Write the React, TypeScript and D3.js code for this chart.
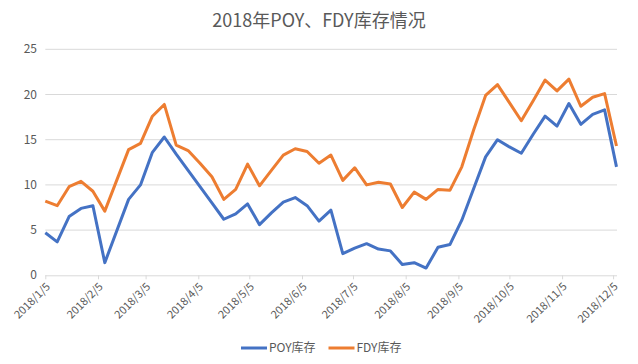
import { useEffect, useRef } from 'react';
import * as d3 from 'd3';

// weekly dates (no 2/16 row, spring festival)
const dates = [
  '2018/1/5', '2018/1/12', '2018/1/19', '2018/1/26', '2018/2/2', '2018/2/9', '2018/2/23',
  '2018/3/2', '2018/3/9', '2018/3/16', '2018/3/23', '2018/3/30', '2018/4/6', '2018/4/13',
  '2018/4/20', '2018/4/27', '2018/5/4', '2018/5/11', '2018/5/18', '2018/5/25', '2018/6/1',
  '2018/6/8', '2018/6/15', '2018/6/22', '2018/6/29', '2018/7/6', '2018/7/13', '2018/7/20',
  '2018/7/27', '2018/8/3', '2018/8/10', '2018/8/17', '2018/8/24', '2018/8/31', '2018/9/7',
  '2018/9/14', '2018/9/21', '2018/9/28', '2018/10/5', '2018/10/12', '2018/10/19', '2018/10/26',
  '2018/11/2', '2018/11/9', '2018/11/16', '2018/11/23', '2018/11/30', '2018/12/7',
];

const poy = [
  4.7, 3.7, 6.5, 7.4, 7.7, 1.4, 8.4,
  10.0, 13.6, 15.3, 13.4, 11.6, 9.8, 8.0,
  6.2, 6.8, 7.9, 5.6, 6.9, 8.1, 8.6,
  7.7, 6.0, 7.2, 2.4, 3.0, 3.5, 2.9,
  2.7, 1.2, 1.4, 0.8, 3.1, 3.4, 6.1,
  9.6, 13.1, 15.0, 14.2, 13.5, 15.6, 17.6,
  16.5, 19.0, 16.7, 17.8, 18.3, 12.0,
];

const fdy = [
  8.2, 7.7, 9.8, 10.4, 9.3, 7.1, 13.9,
  14.6, 17.6, 18.9, 14.4, 13.8, 12.4, 10.9,
  8.4, 9.5, 12.3, 9.9, 11.6, 13.3, 14.0,
  13.7, 12.4, 13.3, 10.5, 11.9, 10.0, 10.3,
  10.1, 7.5, 9.2, 8.4, 9.5, 9.4, 12.0,
  16.1, 19.9, 21.1, 19.1, 17.1, 19.3, 21.6,
  20.4, 21.7, 18.7, 19.7, 20.1, 14.3,
];

const xTicks = [
  '2018/1/5', '2018/2/5', '2018/3/5', '2018/4/5', '2018/5/5', '2018/6/5',
  '2018/7/5', '2018/8/5', '2018/9/5', '2018/10/5', '2018/11/5', '2018/12/5',
];
const yTicks = [0, 5, 10, 15, 20, 25];

const seriesNames = ['POY库存', 'FDY库存'];
const colors = ['#4472C4', '#ED7D31'];

const App = () => {
  const svgRef = useRef<SVGSVGElement>(null);
  const width = 638;
  const height = 364;
  const font = '"Noto Sans CJK SC", "Noto Sans", sans-serif';

  useEffect(() => {
    const svg = d3.select(svgRef.current);
    svg.selectAll('*').remove();
    const parse = d3.timeParse('%Y/%m/%d');

    const x = d3.scaleTime()
      .domain([parse(dates[0])!, parse(dates[dates.length - 1])!])
      .range([45.3, 616.5]);
    const y = d3.scaleLinear().domain([0, 25]).range([275.3, 49.3]);

    svg.append('text')
      .attr('x', 319)
      .attr('y', 27)
      .attr('text-anchor', 'middle')
      .style('font-family', font)
      .style('font-size', '18px')
      .attr('fill', '#595959')
      .text('2018年POY、FDY库存情况');

    // grid
    svg.append('g')
      .selectAll('line')
      .data(yTicks.slice(1))
      .join('line')
      .attr('x1', 45.3)
      .attr('x2', 617)
      .attr('y1', d => y(d))
      .attr('y2', d => y(d))
      .attr('stroke', '#d9d9d9')
      .attr('stroke-width', 1);

    svg.append('g')
      .selectAll('text')
      .data(yTicks)
      .join('text')
      .attr('x', 37)
      .attr('y', d => y(d) + 4)
      .attr('text-anchor', 'end')
      .style('font-family', font)
      .style('font-size', '12px')
      .attr('fill', '#595959')
      .text(d => d);

    // x axis
    const xAxis = d3.axisBottom(x)
      .tickValues(xTicks.map(t => parse(t)!))
      .tickFormat(d3.timeFormat('%Y/%-m/%-d') as any)
      .tickSize(4)
      .tickSizeOuter(0);
    const gx = svg.append('g')
      .attr('transform', `translate(0, ${y(0)})`)
      .call(xAxis);
    gx.select('.domain').attr('stroke', '#d9d9d9').attr('d', 'M45.3,0.5H617');
    gx.selectAll('.tick line').attr('stroke', '#d9d9d9');
    gx.selectAll('.tick text')
      .attr('fill', '#595959')
      .style('font-family', font)
      .style('font-size', '11px')
      .attr('text-anchor', 'end')
      .attr('dy', null)
      .attr('y', 0)
      .attr('transform', 'translate(5, 12) rotate(-45)');

    const seriesData = [poy, fdy];
    const line = d3.line<number>()
      .x((_, i) => x(parse(dates[i])!))
      .y(d => y(d));

    svg.append('g')
      .selectAll('path')
      .data(seriesData)
      .join('path')
      .attr('d', d => line(d))
      .attr('fill', 'none')
      .attr('stroke', (_, i) => colors[i])
      .attr('stroke-width', 3)
      .attr('stroke-linejoin', 'round');

    // legend
    const legendX = [241, 328.5];
    const lg = svg.append('g');
    seriesNames.forEach((name, i) => {
      lg.append('line')
        .attr('x1', legendX[i])
        .attr('x2', legendX[i] + 26)
        .attr('y1', 348)
        .attr('y2', 348)
        .attr('stroke', colors[i])
        .attr('stroke-width', 3);
      lg.append('text')
        .attr('x', legendX[i] + 28)
        .attr('y', 352)
        .style('font-family', font)
        .style('font-size', '12px')
        .attr('fill', '#595959')
        .text(name);
    });
  }, []);

  return (
    <div style={{ position: 'absolute', left: 0, top: 0 }}>
      <svg ref={svgRef} width={width} height={height} style={{ display: 'block', background: '#fff' }}></svg>
    </div>
  );
};

export default App;
